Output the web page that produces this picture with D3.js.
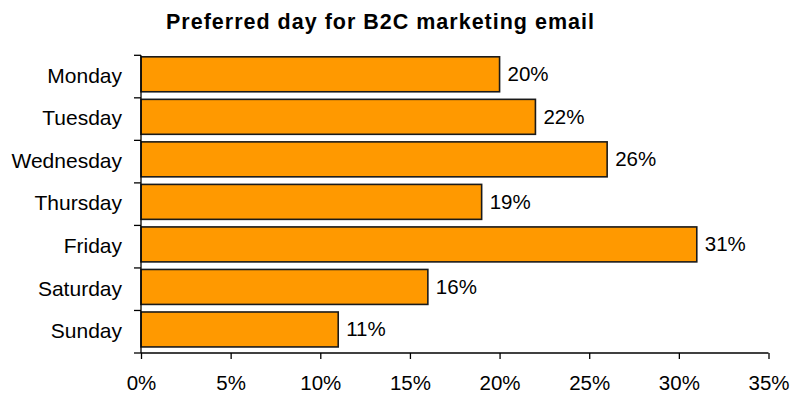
<!DOCTYPE html>
<html>
<head>
<meta charset="utf-8">
<script src="https://cdn.jsdelivr.net/npm/d3@7"></script>
<style>
  html, body { margin: 0; padding: 0; background: #fff; }
  svg { display: block; font-family: "Liberation Sans", Arial, Helvetica, sans-serif; }
</style>
</head>
<body>
<svg id="chart" width="796" height="394"></svg>
<script>
// Survey results: share of respondents preferring each weekday
const days = ["Monday", "Tuesday", "Wednesday", "Thursday", "Friday", "Saturday", "Sunday"];
const shares = [20, 22, 26, 19, 31, 16, 11];
const xTicks = [0, 5, 10, 15, 20, 25, 30, 35];
const title = "Preferred day for B2C marketing email";

const data = days.map((d, i) => ({ day: d, value: shares[i] }));

const svg = d3.select("#chart");
const plotL = 141, plotR = 768.5, plotT = 55.3, plotB = 353;

const x = d3.scaleLinear().domain([0, 35]).range([plotL, plotR]);
const y = d3.scaleBand().domain(days).range([plotT, plotB])
  .paddingInner(0.178).paddingOuter(0.089).align(0.2);
const band = (plotB - plotT) / days.length;

// title
svg.append("text")
  .attr("x", 380.5).attr("y", 29)
  .attr("text-anchor", "middle")
  .attr("font-weight", "bold")
  .attr("font-size", 21.5)
  .attr("letter-spacing", 1.0)
  .attr("fill", "#000")
  .text(title);

// bars
svg.append("g").selectAll("rect").data(data).join("rect")
  .attr("x", x(0))
  .attr("y", d => y(d.day))
  .attr("width", d => x(d.value) - x(0))
  .attr("height", y.bandwidth())
  .attr("fill", "#FF9900")
  .attr("stroke", "#1a1a1a")
  .attr("stroke-width", 1.6);

// value labels
svg.append("g").selectAll("text").data(data).join("text")
  .attr("x", d => x(d.value) + 8)
  .attr("y", d => y(d.day) + y.bandwidth() / 2)
  .attr("dy", "0.33em")
  .attr("font-size", 20.5)
  .attr("fill", "#000")
  .text(d => d.value + "%");

// category axis: line, boundary ticks, labels
const yAxis = svg.append("g");
yAxis.append("line")
  .attr("x1", plotL).attr("x2", plotL).attr("y1", plotT).attr("y2", plotB)
  .attr("stroke", "#000").attr("stroke-width", 1.3);
yAxis.selectAll("line.tick").data(d3.range(days.length + 1)).join("line")
  .attr("class", "tick")
  .attr("x1", plotL - 7).attr("x2", plotL)
  .attr("y1", i => plotT + i * band)
  .attr("y2", i => plotT + i * band)
  .attr("stroke", "#000").attr("stroke-width", 1.3);
yAxis.selectAll("text").data(days).join("text")
  .attr("x", 122)
  .attr("y", (d, i) => plotT + (i + 0.5) * band)
  .attr("dy", "0.3em")
  .attr("text-anchor", "end")
  .attr("font-size", 21)
  .attr("fill", "#000")
  .text(d => d);

// value axis
const xAxis = d3.axisBottom(x)
  .tickValues(xTicks)
  .tickFormat(d => d + "%")
  .tickSize(6)
  .tickPadding(16);
const gx = svg.append("g")
  .attr("transform", `translate(0,${plotB})`)
  .call(xAxis);
gx.select(".domain").attr("stroke", "#000").attr("stroke-width", 1.3)
  .attr("d", `M${plotL},0H${plotR}`);
gx.selectAll(".tick line").attr("stroke", "#000").attr("stroke-width", 1.3);
gx.selectAll(".tick text")
  .attr("font-size", 20.5)
  .attr("font-family", "Liberation Sans, Arial, sans-serif")
  .attr("fill", "#000");
</script>
</body>
</html>
